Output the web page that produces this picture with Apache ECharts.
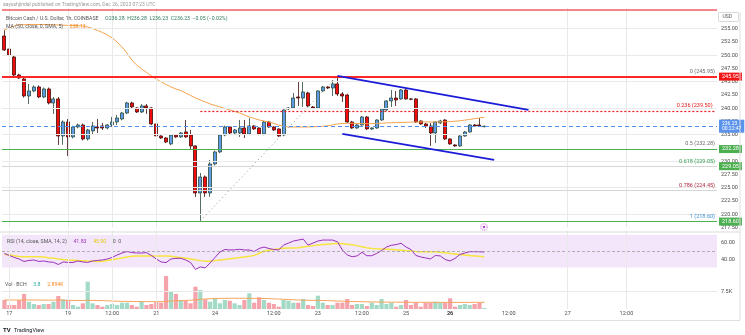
<!DOCTYPE html>
<html><head><meta charset="utf-8">
<script src="https://cdn.jsdelivr.net/npm/echarts@6/dist/echarts.min.js"></script>
<style>html,body{margin:0;padding:0;background:#fff}#c{width:745px;height:335px}</style>
</head><body><div id="c"></div><script>
// ---------- DATA ----------
// candles: [open, close, low, high]
const candles = [
[253.62,250.98,250.80,254.75],[251.17,250.04,249.80,251.50],[249.66,246.26,246.00,249.90],[246.26,245.70,245.50,246.50],[245.51,242.30,242.00,245.80],
[242.30,243.25,240.79,244.57],[243.25,244.00,243.00,244.30],[244.00,242.11,241.90,244.30],[242.11,243.62,241.90,243.90],[243.62,240.98,240.70,243.90],
[240.98,241.74,238.91,242.11],[241.74,234.75,233.06,242.11],[234.75,237.40,233.10,237.70],[237.40,234.57,230.98,237.96],[234.57,236.45,234.30,236.70],
[236.45,236.83,236.20,237.10],[236.83,234.19,233.90,237.10],[234.19,235.89,233.90,236.10],[235.70,236.64,234.94,237.40],[236.45,236.26,235.32,237.96],
[236.64,236.26,235.89,237.21],[236.26,236.83,236.00,237.00],[236.83,237.40,236.45,238.34],[237.40,238.15,236.83,238.72],[237.96,239.09,237.70,239.30],
[239.09,240.98,238.90,241.20],[240.98,240.23,240.00,241.20],[240.04,239.28,239.10,240.20],[239.28,240.42,239.09,240.79],[240.42,240.04,238.91,240.79],
[240.04,237.02,236.80,240.20],[237.02,234.75,233.62,237.21],[234.75,234.38,234.20,234.90],[234.38,233.62,233.40,234.50],[233.25,234.94,233.00,235.10],
[234.94,234.57,234.40,235.10],[234.57,235.32,234.40,235.50],[235.51,234.57,234.40,237.77],[234.94,232.87,232.11,235.89],[232.87,224.00,223.25,233.00],
[224.00,227.02,218.72,227.77],[227.02,224.00,223.25,227.30],[224.00,229.47,223.25,230.23],[229.47,231.74,229.20,232.00],[231.74,234.94,231.50,235.10],
[234.94,236.45,234.70,236.70],[236.45,235.32,235.10,236.60],[235.32,235.89,235.10,236.10],[235.32,236.26,234.57,237.77],[236.26,235.13,234.38,237.77],
[235.13,236.64,234.90,238.15],[236.64,236.08,235.90,236.80],[236.26,235.13,234.90,236.40],[235.13,237.40,234.90,237.60],[237.40,236.45,236.30,237.60],
[236.45,235.89,235.70,236.60],[236.08,234.75,234.57,236.20],[234.94,239.66,234.70,239.80],[239.85,240.04,239.70,240.20],[240.04,241.92,239.90,242.87],
[242.11,241.92,240.42,244.94],[241.92,243.06,240.23,244.94],[242.87,240.42,240.20,243.10],[240.23,240.04,239.90,240.40],[240.04,243.25,239.90,243.40],
[243.25,244.00,243.10,244.20],[244.00,243.81,243.60,244.20],[243.81,244.57,242.30,245.32],[244.57,242.68,242.30,246.08],[242.68,242.30,241.17,243.06],
[242.49,237.40,237.20,242.70],[237.40,236.26,236.10,237.60],[236.26,236.83,236.10,237.00],[236.83,238.34,236.70,238.50],[238.34,236.08,235.90,238.50],
[236.08,236.26,235.90,236.40],[236.26,237.77,236.10,237.90],[237.77,239.85,237.60,240.00],[239.66,241.36,239.50,241.50],[241.36,241.92,240.23,243.43],
[241.92,241.55,240.42,243.25],[241.74,243.43,241.60,243.60],[243.43,241.74,241.60,243.60],[241.74,241.70,241.50,241.90],[241.74,237.40,237.20,241.90],
[237.58,237.02,236.90,237.70],[237.02,236.64,236.26,237.21],[236.64,235.32,232.87,237.21],[235.32,237.40,233.43,237.50],[237.21,237.58,237.00,237.80],
[237.77,234.19,234.00,237.90],[234.19,233.25,233.10,234.30],[233.06,232.87,232.70,233.20],[232.87,234.75,232.70,234.90],[234.75,235.51,234.60,235.70],
[235.51,236.83,235.40,237.00],[236.83,236.64,236.50,237.00],[236.83,236.64,236.50,238.15],[236.50,236.60,236.40,236.70]
];
const maValues = [
254.75,255.13,255.51,255.70,255.75,255.79,255.79,255.79,255.79,255.77,
255.74,255.70,255.66,255.62,255.58,255.55,255.51,255.32,255.04,254.66,
254.28,253.81,253.25,252.49,251.55,250.42,249.09,248.15,247.40,246.74,
246.08,245.51,244.94,244.47,244.00,243.62,243.34,242.87,242.40,241.92,
241.55,241.17,240.79,240.51,240.23,239.94,239.66,239.38,239.09,238.72,
238.34,238.06,237.77,237.58,237.40,237.11,236.83,236.55,236.45,236.45,
236.45,236.45,236.45,236.49,236.53,236.58,236.68,236.83,237.02,237.11,
237.15,237.15,237.11,237.08,237.06,237.08,237.11,237.17,237.21,237.25,
237.28,237.30,237.34,237.36,237.38,237.40,237.40,237.40,237.40,237.40,
237.43,237.47,237.53,237.62,237.74,237.87,238.02,238.15,238.28];
const volumes = [
3900,1730,1730,3900,6500,3160,2170,1730,2170,2170,
3160,5640,4200,3900,1730,1000,2470,11830,2470,1730,
1000,1730,2170,1730,2730,2730,1730,1000,3160,1730,
2170,3160,2730,14300,7800,6500,3900,3600,2470,9670,
8240,4200,3160,4640,2470,3900,3600,2470,1730,3900,
6800,2730,5070,3900,2730,2170,1000,3900,3600,2730,
2730,4340,1730,1300,5770,2730,1730,1730,2730,2730,
4340,1730,2170,2170,1300,2730,1730,4340,2170,2730,
1000,1730,3900,1730,2730,1000,2730,2730,3160,2730,
2730,4640,1000,1730,2170,1730,2170,2730,430];
const volMa = [
3900,3900,3880,3860,3900,3920,3900,3880,3860,3850,3850,3900,
3800,3760,3720,3700,3700,3750,3720,3680,3650,
3550,3450,3380,3330,3300,3280,3250,3220,3200,
3180,3170,3160,3300,3450,3550,
3650,3750,3800,3950,4150,
4350,4450,4550,4600,4640,4650,4650,4640,4640,4620,4600,4580,4550,4500,
4400,4300,4200,
4100,4000,3900,3850,3800,3750,3720,3700,3650,
3550,3450,3380,3330,
3250,3200,3150,3100,3050,3020,3000,2980,2960,2950,
2940,2930,2920,2910,2900,2900,2900,2890,2880,2870,2860,2860,2850,
2860,2870,2880,2890,2894];
const rsi = [
47.2,44.8,42.4,40.5,37.5,38.7,39.3,37.5,38.1,36.9,
36.5,33.8,36.9,36.3,36.3,38.1,36.9,36.3,38.1,38.7,
39.3,40.5,42.4,45.4,47.8,49.6,48.4,47.8,47.8,48.2,
44.8,40.5,36.9,36.1,40.5,41.2,41.4,39.3,36.3,27.8,
30.8,29.6,35.7,42.4,49.0,52.1,51.5,51.7,52.3,51.5,
51.5,49.6,53.3,55.1,53.3,52.1,51.5,57.5,59.9,62.4,
63.6,64.8,57.5,59.9,62.4,63.6,63.6,63.6,61.5,51.5,
45.4,43.3,44.2,48.7,44.5,44.5,47.2,50.8,55.1,57.2,
58.1,59.6,55.1,52.1,44.8,43.0,41.8,40.5,44.8,44.2,
39.9,38.1,41.2,46.0,47.8,49.4,49.4,49.3,49.0];
const rsiSma = [
46.4,45.4,44.4,43.5,43.3,43.3,43.3,43.3,42.8,42.0,
41.3,40.4,39.8,39.3,39.0,38.6,38.4,38.0,37.8,37.4,
37.6,38.6,39.7,40.7,41.8,42.8,43.9,44.2,44.2,44.2,
44.2,44.2,44.2,44.2,43.7,43.0,42.2,41.5,40.5,39.5,
38.5,37.6,37.8,38.5,39.2,39.9,40.7,41.5,42.2,43.0,
43.7,44.9,47.5,49.9,51.1,52.2,52.9,53.5,53.8,53.9,
54.1,55.1,55.9,56.8,57.5,58.1,58.6,59.1,59.6,59.1,
58.6,58.0,56.8,55.5,54.1,53.4,53.0,52.7,52.4,52.1,
51.7,51.3,50.7,50.1,49.5,49.4,49.4,49.4,49.4,48.8,
48.1,47.3,46.6,45.9,45.3,44.7,44.2,43.7,43.3];
const timeTickIndex = [1,13,22,31,43,55,64,73,82,91,103,115,127];
const timeTickText  = ['17','19','12:00','21','24','12:00','23','12:00','25','26','12:00','27','12:00'];
const timeTickBold  = [91];
const vGridIndex = [1,13,22,31,115,127];
const priceGridLevels = [220,225,230,235,240,245,250,255];
const fibRatios = ['0','0.236','0.5','0.618','0.786','1'];
const fibPrices = [245.95,239.50,232.28,229.05,224.45,218.60];
const topLinePrice = 258.53;
const lastPrice = 236.60;
const lastPriceText = '236.23';
const upperChannel = [[67.9,246.08],[106.7,239.66]];
const lowerChannel = [[69.1,235.13],[100.0,230.23]];
const fibTrend = [[40,218.72],[68,246.08]];
const TOTAL_SLOTS = 146;

// ---------- CHART ----------
const FONT = 'Roboto, "Liberation Sans", sans-serif';
const cats = Array.from({length: TOTAL_SLOTS}, (_, i) => String(i));
const UP='#5e9ce8', DOWN='#f20d0d', UPB='#2c4a38', DOWNB='#3d0c0c';
const VUP='#a3dac6', VDOWN='#f5a3aa';
const GRIDC='#e9e9e9';

function vLines(){ return vGridIndex.map(i => ({xAxis: i})); }

const fibLineStyle = [
  {color:'#ff1a1a', width:1.5, type:'solid'},
  {color:'#e8181c', width:1.2, type:[2,2]},
  {color:'#4caf50', width:1.2, type:'solid'},
  {color:'#d6d6d6', width:1, type:'solid'},
  {color:'#d6d6d6', width:1, type:'solid'},
  {color:'#4caf50', width:1.2, type:'solid'}];
const fibTextColor = ['#6b6b6b','#e3171b','#6b6b6b','#2e9e4f','#b0243a','#3d8fd6'];
const fibTagColor = ['#f21818', null, '#4caf50', '#4caf50', null, '#4caf50'];

const fibMarks = [];
fibPrices.forEach((p, k) => {
  const txt = {show:true, position:'insideEndTop', formatter: fibRatios[k] + ' (' + p.toFixed(2) + ')',
               color: fibTextColor[k], fontSize:5.5, fontFamily:FONT, distance:2};
  if (k === 1) {
    fibMarks.push([{coord:[40, p], lineStyle: fibLineStyle[k], label: txt}, {coord:[TOTAL_SLOTS-1, p]}]);
  } else {
    fibMarks.push({yAxis: p, lineStyle: fibLineStyle[k], label: txt});
  }
  if (fibTagColor[k]) {
    fibMarks.push({yAxis: p, lineStyle: fibLineStyle[k],
      label:{show:true, position:'end', formatter: p.toFixed(2), color:'#fff', backgroundColor: fibTagColor[k],
             fontSize:5.5, fontFamily:FONT, padding:[1,3,1,3], distance:2}});
  }
});
fibMarks.push({yAxis: topLinePrice, lineStyle:{color:'#f25c64', width:1.5, type:'solid'}, label:{show:false}});
fibMarks.push({yAxis: lastPrice, lineStyle:{color:'#5291f0', width:1, type:[4,3]},
  label:{show:true, position:'end', formatter: lastPriceText + '\n00:22:47', color:'#fff', backgroundColor:'#5b93ec',
         fontSize:5, lineHeight:5.5, fontFamily:FONT, padding:[1,3,1,3], distance:2}});

const option = {
  animation:false,
  textStyle:{fontFamily:FONT},
  grid:[
    {left:2, width:715, top:8, height:219.4},
    {left:2, width:715, top:230.7, height:41},
    {left:2, width:715, top:270, height:39}
  ],
  xAxis:[0,1,2].map(g => ({
    type:'category', gridIndex:g, data:cats, boundaryGap:true,
    axisLine:{show:false}, axisTick:{show:false}, splitLine:{show:false},
    axisLabel: g<2 ? {show:false} : {
      show:true, margin:2, fontSize:5.5, color:'#4d4d4d', fontFamily:FONT,
      interval:(idx) => timeTickIndex.includes(idx),
      formatter:(v, idx) => { const j = timeTickIndex.indexOf(Number(v)); if (j<0) return '';
        return timeTickBold.includes(Number(v)) ? '{b|'+timeTickText[j]+'}' : timeTickText[j]; },
      rich:{b:{fontWeight:'bold', fontSize:5.5, color:'#333'}}
    }
  })),
  yAxis:[
    {type:'value', gridIndex:0, position:'right', min:217.5, max:258.9, interval:2.5, scale:true,
     axisLine:{show:false}, axisTick:{show:false}, splitLine:{show:false},
     axisLabel:{fontSize:5.5, color:'#4d4d4d', margin:4, showMaxLabel:false, fontFamily:FONT,
       formatter:v => v>256 ? '' : v.toFixed(2)}},
    {type:'value', gridIndex:1, position:'right', min:25, max:75, interval:5,
     axisLine:{show:false}, axisTick:{show:false}, splitLine:{show:false},
     axisLabel:{fontSize:5.5, color:'#4d4d4d', margin:4, fontFamily:FONT,
       formatter:v => (v===60||v===40) ? v.toFixed(2) : ''}},
    {type:'value', gridIndex:2, position:'right', min:0, max:16906, interval:7500,
     axisLine:{show:false}, axisTick:{show:false}, splitLine:{show:false},
     axisLabel:{fontSize:5.5, color:'#4d4d4d', margin:4, fontFamily:FONT,
       formatter:v => v===7500 ? '7.5K' : ''}}
  ],
  series:[
    {type:'line', xAxisIndex:0, yAxisIndex:0, data:[], z:0, silent:true,
     markLine:{symbol:['none','none'], silent:true, animation:false, label:{show:false},
       lineStyle:{color:GRIDC, width:1, type:'solid'},
       data: priceGridLevels.map(p => ({yAxis:p})).concat(vLines())}},
    {type:'line', xAxisIndex:0, yAxisIndex:0, data:[], z:1, silent:true,
     markLine:{symbol:['none','none'], silent:true, animation:false, data: fibMarks}},
    {type:'candlestick', name:'BCHUSD', xAxisIndex:0, yAxisIndex:0, data:candles, barWidth:3.5, z:3,
     itemStyle:{color:UP, color0:DOWN, borderColor:UPB, borderColor0:DOWNB, borderWidth:0.8}},
    {type:'line', name:'MA', xAxisIndex:0, yAxisIndex:0, data:maValues, symbol:'none', z:4,
     lineStyle:{color:'#f4a24d', width:1}},
    {type:'line', name:'upper', xAxisIndex:0, yAxisIndex:0, data:upperChannel, symbol:'none', z:5,
     lineStyle:{color:'#1c1cd8', width:1.8}},
    {type:'line', name:'lower', xAxisIndex:0, yAxisIndex:0, data:lowerChannel, symbol:'none', z:5,
     lineStyle:{color:'#1c1cd8', width:1.8}},
    {type:'line', name:'fibTrend', xAxisIndex:0, yAxisIndex:0, data:fibTrend, symbol:'none', z:5,
     lineStyle:{color:'#8a8a8a', width:1, type:[1,3]}},
    {type:'line', name:'RSI', xAxisIndex:1, yAxisIndex:1, data:rsi, symbol:'none', z:3,
     lineStyle:{color:'#9b30b8', width:1},
     markArea:{silent:true, itemStyle:{color:'#f3e6fb'}, data:[[{yAxis:70},{yAxis:30}]]},
     markLine:{symbol:['none','none'], silent:true, label:{show:false},
       data:[{yAxis:50, lineStyle:{color:'#a0a0a0', width:0.8, type:[3,2]}}].concat(
         vLines().map(d => Object.assign({lineStyle:{color:GRIDC, width:1, type:'solid'}}, d)))}},
    {type:'line', name:'RSI SMA', xAxisIndex:1, yAxisIndex:1, data:rsiSma, symbol:'none', z:2,
     lineStyle:{color:'#f7e43c', width:1.5}},
    {type:'bar', name:'Vol', xAxisIndex:2, yAxisIndex:2, barWidth:4.2, z:3,
     data: volumes.map((v,i) => ({value:v, itemStyle:{color: candles[i][1] >= candles[i][0] ? VUP : VDOWN}})),
     markLine:{symbol:['none','none'], silent:true, label:{show:false},
       lineStyle:{color:GRIDC, width:1, type:'solid'},
       data:[{yAxis:7500}].concat(vLines())}},
    {type:'line', name:'Vol MA', xAxisIndex:2, yAxisIndex:2, data:volMa, symbol:'none', z:4,
     lineStyle:{color:'#f6a35a', width:1}}
  ],
  graphic:{elements:[
    {type:'text', z:100, left:3, top:2, style:{text:'aayushjindal published on TradingView.com, Dec 26, 2023 07:23 UTC', fill:'#9a9a9a', font:'5px '+FONT}},
    {type:'text', z:100, left:6, top:12.5, style:{
      text:'{a|Bitcoin Cash / U.S. Dollar, 1h, COINBASE}  {v|O236.28  H236.28  L236.23  C236.23  −0.05 (−0.02%)}',
      rich:{a:{fill:'#555', font:'5.2px '+FONT}, v:{fill:'#2f7a58', font:'5.2px '+FONT}}}},
    {type:'text', z:100, left:6, top:20.5, style:{
      text:'{a|MA (50, close, 0, SMA, 5)}  {o|238.13}',
      rich:{a:{fill:'#555', font:'5.2px '+FONT}, o:{fill:'#f08a24', font:'5.2px '+FONT}}}},
    {type:'text', z:100, left:7, top:235.5, style:{
      text:'{a|RSI (14, close, SMA, 14, 2)}  {p|41.83}  {y|45.90}  {a|0  0}',
      rich:{a:{fill:'#555', font:'5.2px '+FONT}, p:{fill:'#9b30b8', font:'5.2px '+FONT}, y:{fill:'#e6c800', font:'5.2px '+FONT}}}},
    {type:'text', z:100, left:5, top:278.5, style:{
      text:'{a|Vol · BCH}  {g|3.8}  {o|2.894K}',
      rich:{a:{fill:'#555', font:'5.2px '+FONT}, g:{fill:'#26a69a', font:'5.2px '+FONT}, o:{fill:'#f08a24', font:'5.2px '+FONT}}}},
    {type:'rect', z:100, shape:{x:718.5, y:12.5, width:20, height:9, r:1}, style:{fill:'#fff', stroke:'#cfcfcf', lineWidth:0.8}},
    {type:'text', z:101, left:722.5, top:14.5, style:{text:'USD', fill:'#555', font:'5px '+FONT}},
    {type:'line', z:100, shape:{x1:0, y1:232, x2:740, y2:232}, style:{stroke:'#d9d9d9', lineWidth:1}},
    {type:'line', z:100, shape:{x1:740, y1:12, x2:740, y2:320}, style:{stroke:'#e0e0e0', lineWidth:1}},
    {type:'line', z:100, shape:{x1:0, y1:320.5, x2:740, y2:320.5}, style:{stroke:'#e0e0e0', lineWidth:1}},
    {type:'text', z:100, left:3, top:324.5, style:{text:'{b|TV} {a|TradingView}',
      rich:{b:{fill:'#131722', font:'bold 6px '+FONT}, a:{fill:'#131722', font:'5.5px '+FONT}}}},
    {type:'circle', z:100, shape:{cx:484, cy:227, r:3.2}, style:{fill:'#fff', stroke:'#b03cc9', lineWidth:0.9, lineDash:[1,1]}},
    {type:'circle', z:101, shape:{cx:484, cy:227, r:1.2}, style:{fill:'#b03cc9'}}
  ]}
};
const chart = echarts.init(document.getElementById('c'), null, {renderer:'canvas', width:745, height:335});
chart.setOption(option);
</script></body></html>
